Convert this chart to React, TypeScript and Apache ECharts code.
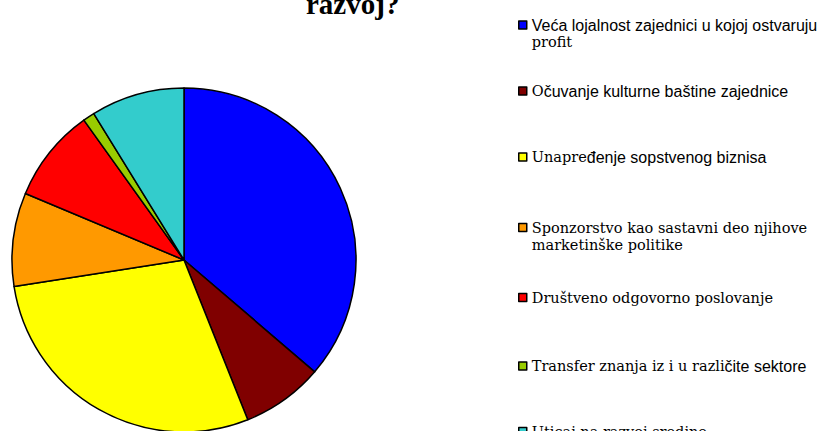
import React, { useEffect, useRef } from "react";
import * as echarts from "echarts";

const categories: string[] = [
  "Veća lojalnost zajednici u kojoj ostvaruju profit",
  "Očuvanje kulturne baštine zajednice",
  "Unapređenje sopstvenog biznisa",
  "Sponzorstvo kao sastavni deo njihove marketinške politike",
  "Društveno odgovorno poslovanje",
  "Transfer znanja iz i u različite sektore",
  "Uticaj na razvoj sredine",
];
const values: number[] = [33, 7, 26, 8, 8, 1, 8];
const colors: string[] = ["#0000FF", "#800000", "#FFFF00", "#FF9900", "#FF0000", "#99CC00", "#33CCCC"];

// legend label formatting (mixed fonts as in the reference)
const legendLabels: string[] = [
  "{s|Veća lojalnost zajednici u kojoj ostvaruju}\n{r|profit}",
  "{r|O}{s|čuvanje kulturne baštine zajednice}",
  "{r|Unapre}{s|đenje sopstvenog biznisa}",
  "{r|Sponzorstvo kao sastavni deo njihove}\n{r|marketinške politike}",
  "{r|Društveno odgovorno poslovanje}",
  "{r|Transfer znanja iz i u razli}{s|čite sektore}",
  "{r|Uticaj na razvoj sredine}",
];
const markerCenters: number[] = [24, 91, 157, 227, 298, 366, 432];
const twoLine: boolean[] = [true, false, false, true, false, false, false];

export default function App() {
  const ref = useRef<HTMLDivElement>(null);
  useEffect(() => {
    if (!ref.current) return;
    const chart = echarts.init(ref.current, undefined, { renderer: "svg" });
    const rich = {
      s: { fontFamily: "Liberation Sans", fontSize: 16, color: "#000", lineHeight: 17 },
      r: { fontFamily: "DejaVu Serif", fontSize: 14.5, color: "#000", lineHeight: 17 },
    };
    const legends = categories.map((name, i) => ({
      show: true,
      orient: "vertical",
      left: 518,
      top: markerCenters[i] - (twoLine[i] ? 7 : 8),
      padding: 0,
      itemWidth: 8,
      itemHeight: 8,
      itemGap: 0,
      icon: "rect",
      selectedMode: false,
      data: [name],
      itemStyle: { borderColor: "#000", borderWidth: 1.5 },
      formatter: () => legendLabels[i],
      textStyle: {
        rich,
        padding: twoLine[i] ? [17, 0, 0, 0] : 0,
      },
    }));
    chart.setOption({
      animation: false,
      backgroundColor: "#fff",
      title: {
        text: "razvoj?",
        left: 306,
        top: -11,
        padding: 0,
        textStyle: { fontFamily: "Liberation Serif", fontWeight: "bold", fontSize: 29, color: "#000" },
      },
      legend: legends,
      series: [
        {
          type: "pie",
          center: [184, 260],
          radius: 172,
          startAngle: 90,
          clockwise: true,
          label: { show: false },
          labelLine: { show: false },
          emphasis: { disabled: true },
          silent: true,
          itemStyle: { borderColor: "#000", borderWidth: 1.5 },
          data: categories.map((name, i) => ({ name, value: values[i], itemStyle: { color: colors[i] } })),
        },
      ],
    });
    return () => chart.dispose();
  }, []);
  return <div ref={ref} style={{ position: "fixed", left: 0, top: 0, width: 824, height: 431 }} />;
}
